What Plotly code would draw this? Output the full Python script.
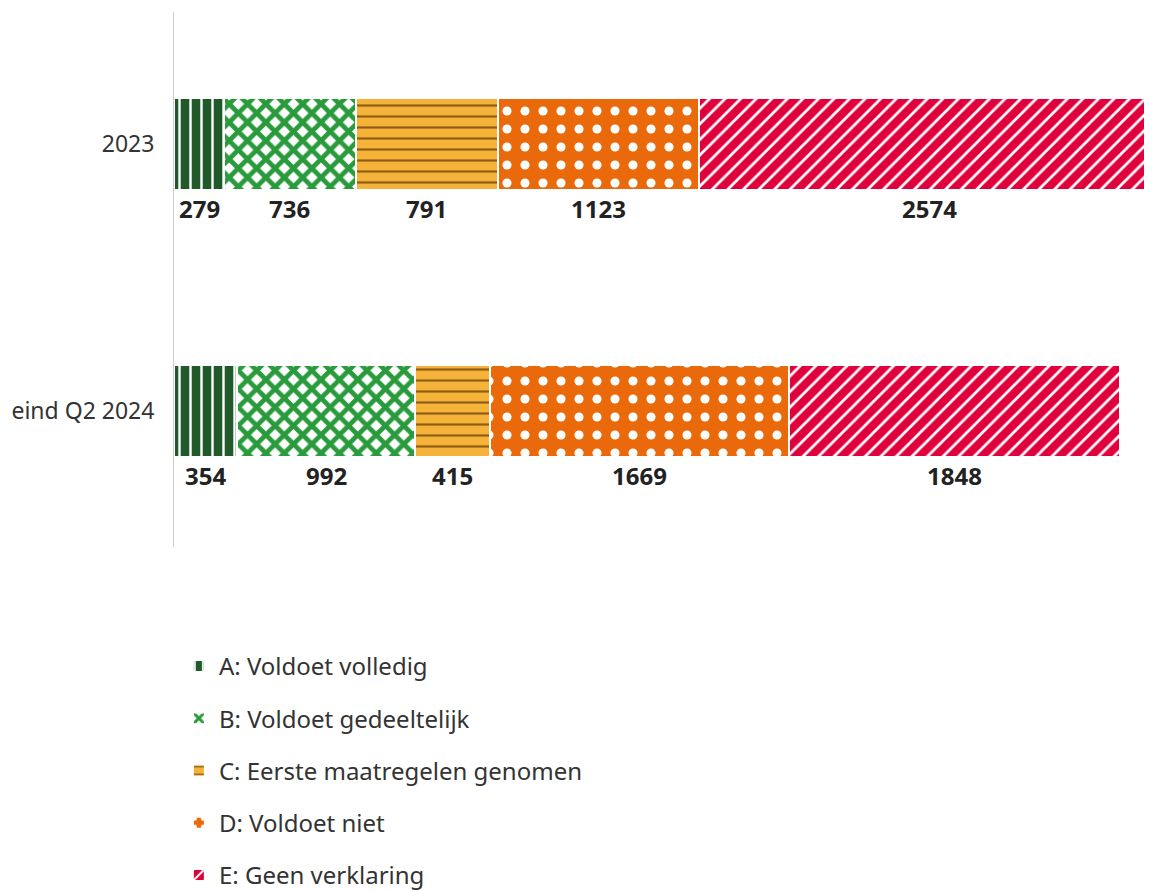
import plotly.graph_objects as go

# Data
periods = ["2023", "eind Q2 2024"]
categories = ["A: Voldoet volledig", "B: Voldoet gedeeltelijk",
              "C: Eerste maatregelen genomen", "D: Voldoet niet", "E: Geen verklaring"]
values_2023 = [279, 736, 791, 1123, 2574]
values_2024 = [354, 992, 415, 1669, 1848]

# Styles per category (bg color, pattern shape, fg color, size, solidity)
styles = [
    dict(bgcolor="#215a2a", shape="|", fgcolor="#ffffff", size=11, solidity=0.22),
    dict(bgcolor="#ffffff", shape="x", fgcolor="#2a9b3c", size=13, solidity=0.6),
    dict(bgcolor="#f5b33a", shape="-", fgcolor="#8f5c15", size=11, solidity=0.2),
    dict(bgcolor="#ea6a0b", shape=".", fgcolor="#ffffff", size=18, solidity=0.2),
    dict(bgcolor="#e0003b", shape="/", fgcolor="#ffffff", size=11, solidity=0.25),
]

FONT = "Noto Sans"

fig = go.Figure()
for i, cat in enumerate(categories):
    st = styles[i]
    fig.add_trace(go.Bar(
        y=periods,
        x=[values_2023[i], values_2024[i]],
        orientation="h",
        name=cat,
        legendgroup=cat,
        width=0.345,
        marker=dict(
            color=st["bgcolor"],
            line=dict(color="white", width=2),
            pattern=dict(shape=st["shape"], fgcolor=st["fgcolor"], bgcolor=st["bgcolor"],
                         size=st["size"], solidity=st["solidity"], fillmode="replace"),
        ),
        hovertemplate="%{y}<br>" + cat + ": %{x}<extra></extra>",
    ))

# value labels under each segment (y given as category index: 2023 -> 1, Q2 2024 -> 0)
order = ["eind Q2 2024", "2023"]
annotations = []
for period, vals in zip(periods, [values_2023, values_2024]):
    cum = 0
    for v in vals:
        annotations.append(dict(
            x=cum + v / 2, y=order.index(period), xref="x", yref="y",
            text=f"<b>{v}</b>", showarrow=False, yshift=-65,
            font=dict(family=FONT, size=24, color="#222222"),
        ))
        cum += v

fig.update_layout(
    width=1152, height=891,
    barmode="stack",
    paper_bgcolor="white", plot_bgcolor="white",
    margin=dict(l=166, r=8, t=4, b=352),
    font=dict(family=FONT, size=24, color="#333333"),
    xaxis=dict(range=[0, 5457], visible=False, fixedrange=True),
    yaxis=dict(categoryorder="array", categoryarray=order,
               range=[-0.51, 1.494], showline=True, linecolor="#cccccc", linewidth=1,
               showgrid=False, ticks="", ticklabelstandoff=14, automargin=False,
               tickfont=dict(family=FONT, size=23, color="#333333")),
    showlegend=True,
    legend=dict(orientation="v", x=0.005, xanchor="left",
                yref="container", y=0.2862, yanchor="top",
                traceorder="grouped", tracegroupgap=18,
                font=dict(family=FONT, size=24, color="#333333"),
                itemwidth=30),
    annotations=annotations,
)

fig.write_html("out.html")
